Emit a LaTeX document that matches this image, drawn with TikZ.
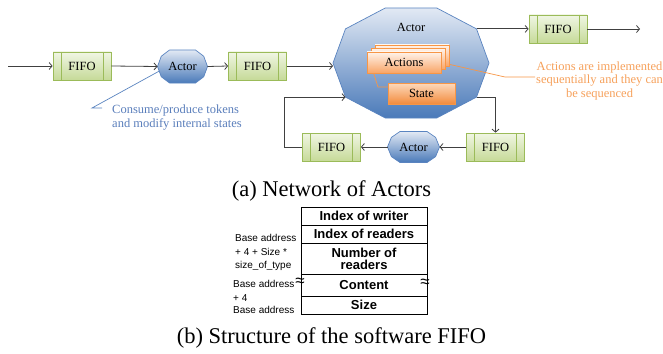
\documentclass[tikz,border=0pt]{standalone}
\usepackage{fontspec}
\setmainfont{Liberation Serif}
\setsansfont{Liberation Sans}
\usetikzlibrary{calc,arrows.meta}

\definecolor{fifoline}{HTML}{9BBB59}
\definecolor{fifotop}{HTML}{F0F6E4}
\definecolor{fifobot}{HTML}{C6DA98}
\definecolor{actline}{HTML}{5A84C0}
\definecolor{acttop}{HTML}{E2E9F4}
\definecolor{actbot}{HTML}{4A7AB9}
\definecolor{orline}{HTML}{F79646}
\definecolor{ortop}{HTML}{FFF3EA}
\definecolor{orbot}{HTML}{F8A466}
\definecolor{sttop}{HTML}{FCD9BC}
\definecolor{stbot}{HTML}{F38B3C}
\definecolor{conngray}{HTML}{404040}
\definecolor{bluetext}{HTML}{5A7EBB}
\definecolor{orangetext}{HTML}{F6A05A}

% decagonal actor outline: name, centre, half width, half height,
% top edge ratio, shoulder x ratio, shoulder y ratio
\newcommand\actorshape[7]{%
  \coordinate (#1) at (#2);
  \path[actorbody]
    ($(#1)+(-#5*#3,-#4)$) coordinate (#1-nw)
    -- ($(#1)+(#5*#3,-#4)$) coordinate (#1-n)
    -- ($(#1)+(#6*#3,-#7*#4)$) coordinate (#1-ne)
    -- ($(#1)+(#3,0)$) coordinate (#1-e)
    -- ($(#1)+(#6*#3,#7*#4)$) coordinate (#1-se)
    -- ($(#1)+(#5*#3,#4)$) coordinate (#1-s)
    -- ($(#1)+(-#5*#3,#4)$)
    -- ($(#1)+(-#6*#3,#7*#4)$) coordinate (#1-sw)
    -- ($(#1)+(-#3,0)$) coordinate (#1-w)
    -- ($(#1)+(-#6*#3,-#7*#4)$)
    -- cycle;}

\begin{document}
\begin{tikzpicture}[x=1pt,y=-1pt,
  diagfont/.style={font=\fontsize{12.5}{14}\selectfont},
  fifo/.style={diagfont, draw=fifoline, line width=0.8pt,
    top color=fifotop, bottom color=fifobot,
    minimum width=58pt, minimum height=28pt, inner sep=0pt,
    path picture={
      \draw[fifoline, line width=0.7pt]
        ([xshift=8pt]path picture bounding box.north west) --
        ([xshift=8pt]path picture bounding box.south west);
      \draw[fifoline, line width=0.7pt]
        ([xshift=-8pt]path picture bounding box.north east) --
        ([xshift=-8pt]path picture bounding box.south east);}},
  actorbody/.style={draw=actline, line width=0.7pt, top color=acttop, bottom color=actbot},
  actortext/.style={diagfont, inner sep=1pt},
  actbox/.style={diagfont, draw=orline, line width=0.7pt, top color=ortop, bottom color=orbot,
    minimum width=74pt, minimum height=21pt, inner sep=0pt},
  statebox/.style={diagfont, draw=orline, line width=0.7pt, top color=sttop, bottom color=stbot,
    minimum width=67pt, minimum height=21pt, inner sep=0pt},
  conn/.style={draw=conngray, line width=0.8pt, -{Straight Barb[length=3pt,width=7pt]}},
  blueline/.style={draw=actline, line width=0.7pt},
  orangeline/.style={draw=orline, line width=0.7pt},
  notefont/.style={font=\fontsize{12.5}{13.5}\selectfont},
  cell/.style={draw, line width=0.9pt, minimum width=126pt, inner sep=0pt,
    font=\sffamily\bfseries\fontsize{13}{13}\selectfont, align=center},
  addr/.style={font=\sffamily\fontsize{10}{13.5}\selectfont, inner sep=0pt, align=left, anchor=west},
  wave/.style={font=\sffamily\fontsize{17}{17}\selectfont, inner sep=0pt},
  caption/.style={font=\fontsize{22.5}{25}\selectfont, anchor=base, inner sep=0pt}
]
\useasboundingbox (0,0) rectangle (663,353);

% ---------- (a) network of actors ----------
\coordinate (in) at (8,66);
\node[fifo] (F1) at (82,66) {FIFO};
\actorshape{A1}{182.5,66.5}{25}{16.5}{0.52}{0.85}{0.62}
\node[actortext] (A1t) at (A1) {Actor};
\node[fifo] (F2) at (257.5,66) {FIFO};

\actorshape{B}{411,63}{78}{55}{0.33}{0.84}{0.62}
\node[actortext] (Bt) at (411,27) {Actor};

\node[fifo] (F3) at (558,29) {FIFO};
\coordinate (out) at (640,29);

\node[fifo] (F4) at (495.5,147) {FIFO};
\actorshape{A2}{413.5,147}{26}{15.5}{0.52}{0.85}{0.62}
\node[actortext] (A2t) at (A2) {Actor};
\node[fifo] (F5) at (331.5,147) {FIFO};

% actions stack and state inside the big actor
\node[actbox] (Act3) at (412,55.5) {};
\node[actbox] (Act2) at (408,59) {};
\node[actbox] (Act1) at (404,62.5) {Actions};
\node[statebox] (State) at (421.5,93.5) {State};

% connectors
\draw[conn] (in) -- (F1.west);
\draw[conn] (F1.east) -- (A1-w);
\draw[conn] (A1-e) -- (F2.west);
\draw[conn] (F2.east) -- (F2.east -| B-w);
\draw[conn] (B-ne) -- (B-ne -| F3.west);
\draw[conn] (F3.east) -- (out);
\draw[conn] (B-se) -| (F4.north);
\draw[conn] (F4.west) -- (A2-e);
\draw[conn] (A2-w) -- (F5.east);
\draw[conn] (F5.west) -- ++(-18,0) |- (B-sw);

% callouts
\coordinate (bendA) at (505,77);
\node[notefont, text=orangetext, align=center, anchor=west, inner sep=1pt] (noteA) at (535,80.5)
  {Actions are implemented\\sequentially and they can\\be sequenced};
\draw[orangeline] ([yshift=2pt]Act3.south east) -- (bendA) -- (bendA -| noteA.west);

\coordinate (bendS) at (378,87);
\draw[orangeline] ([xshift=7pt]Act1.south west) -- (bendS) -- (bendS -| State.west);

\coordinate (bendB) at (92,108);
\node[notefont, text=bluetext, align=left, anchor=west, inner sep=0pt] (noteB) at (112,117.5)
  {Consume/produce tokens\\and modify internal states};
\draw[blueline] ($(A1-w)!0.45!(A1-sw)$) -- (bendB) -- ++(10,0);

\node[caption] (capA) at (331.5,196) {(a) Network of Actors};

% ---------- (b) software FIFO layout ----------
\node[cell, minimum height=18pt] (r1) at (364,216) {Index of writer};
\node[cell, minimum height=18pt] (r2) at (364,234) {Index of readers};
\node[cell, minimum height=31pt] (r3) at (364,258.5) {Number of\\[-1pt]readers};
\node[cell, minimum height=22pt] (r4) at (364,285) {Content};
\node[cell, minimum height=18pt] (r5) at (364,305) {Size};

\node[addr] (l1) at (235,252.5) {Base address\\+ 4 + Size *\\size\_of\_type};
\node[addr] (l2) at (233,291) {Base address\\+ 4};
\node[addr] (l3) at (233,310) {Base address};

\node[wave] (wl) at (300,282) {≈};
\node[wave] (wr) at (425,283) {≈};

\node[caption] (capB) at (331.5,343) {(b) Structure of the software FIFO};
\end{tikzpicture}
\end{document}
